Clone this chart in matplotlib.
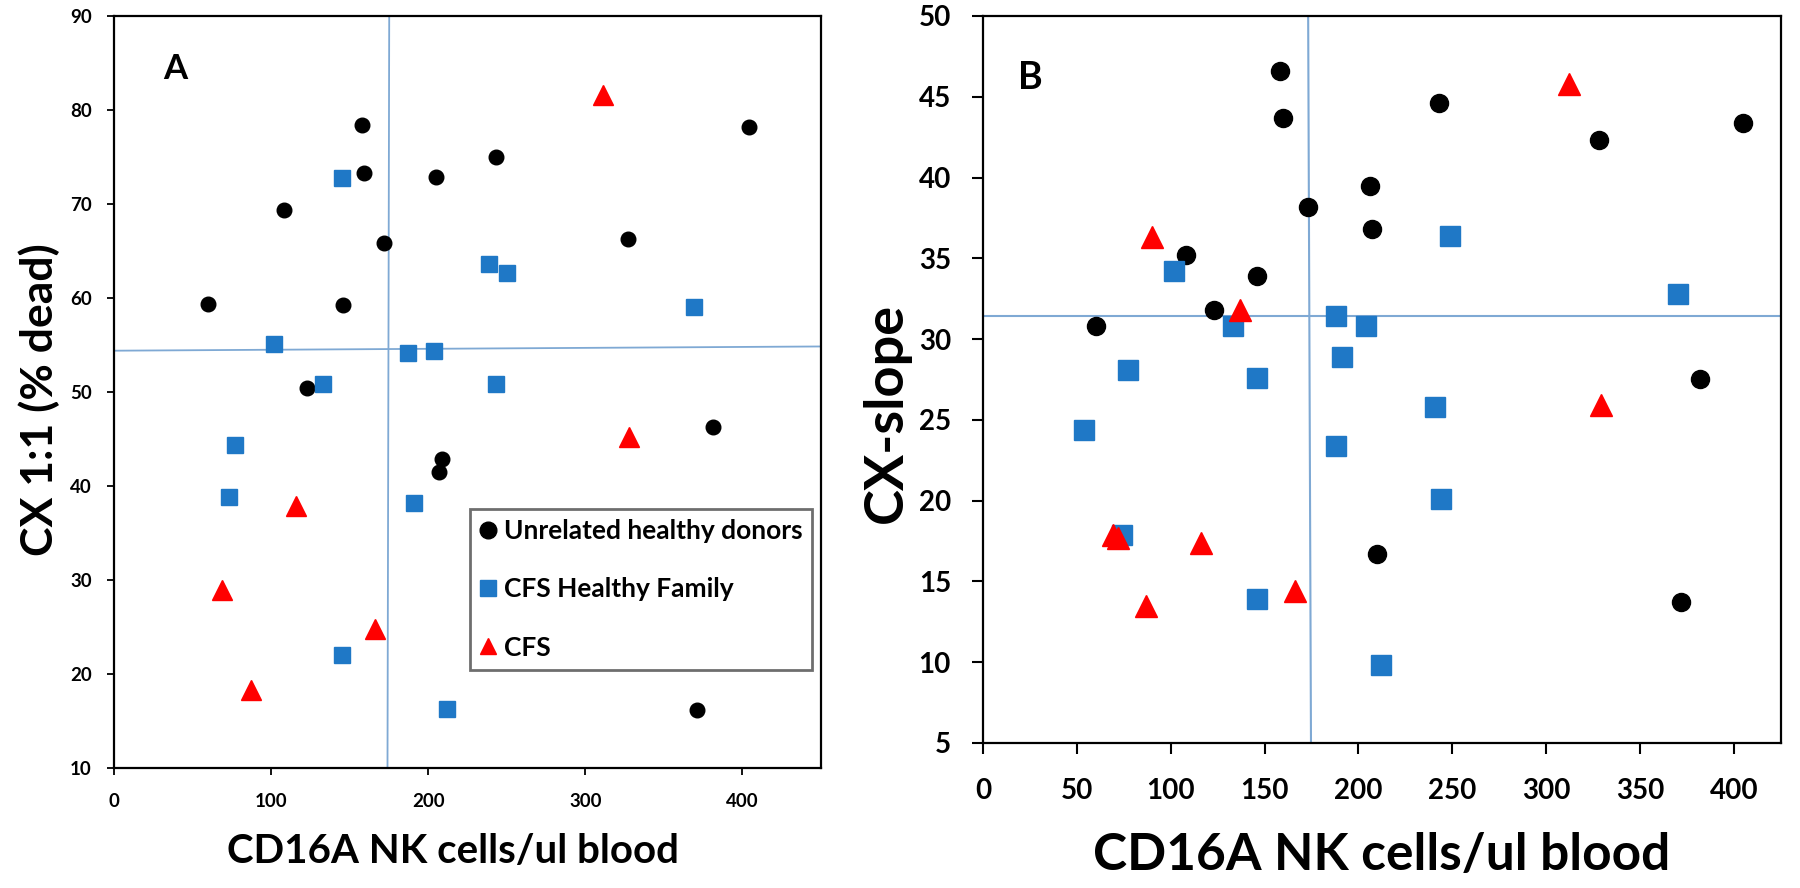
import matplotlib
matplotlib.use("Agg")
import matplotlib.pyplot as plt
from matplotlib.lines import Line2D

plt.rcParams['font.family'] = ['Lato', 'DejaVu Sans']
plt.rcParams['font.weight'] = 'bold'

# -------------------------------------------------
# DATA  panel A: CX 1:1 (% dead)
# -------------------------------------------------
a_donor_x = [60, 158, 159, 108, 172, 146, 123, 205, 243, 327, 404, 381, 209, 207, 371]
a_donor_y = [59.4, 78.4, 73.3, 69.4, 65.9, 59.3, 50.4, 72.9, 75.0, 66.3, 78.2, 46.3, 42.9, 41.5, 16.2]

a_family_x = [145, 102, 133, 77, 73, 187, 204, 239, 250, 243, 369, 191, 145, 212]
a_family_y = [72.8, 55.1, 50.9, 44.4, 38.8, 54.2, 54.4, 63.6, 62.7, 50.9, 59.1, 38.2, 22.0, 16.3]

a_cfs_x = [311, 328, 116, 69, 166, 87]
a_cfs_y = [81.6, 45.2, 37.9, 28.9, 24.8, 18.3]

a_hline_x = [0, 450]
a_hline_y = [54.4, 54.85]
a_vline_x = [175.2, 174.1]
a_vline_y = [90, 10]

# -------------------------------------------------
# DATA  panel B: CX-slope
# -------------------------------------------------
b_donor_x = [158, 160, 243, 328, 405, 206, 173, 207, 108, 146, 123, 60, 382, 210, 372]
b_donor_y = [46.6, 43.7, 44.6, 42.3, 43.4, 39.5, 38.2, 36.8, 35.2, 33.9, 31.8, 30.8, 27.5, 16.7, 13.7]

b_family_x = [102, 249, 370, 188, 204, 133, 191, 77, 146, 54, 241, 188, 244, 74, 146, 212]
b_family_y = [34.2, 36.4, 32.8, 31.4, 30.8, 30.8, 28.9, 28.1, 27.6, 24.4, 25.8, 23.4, 20.1, 17.9, 13.9, 9.8]

b_cfs_x = [312, 90, 137, 329, 69, 72, 116, 166, 87]
b_cfs_y = [45.8, 36.3, 31.8, 25.9, 17.9, 17.7, 17.4, 14.4, 13.5]

b_hline_x = [0, 425]
b_hline_y = [31.4, 31.4]
b_vline_x = [173.2, 174.7]
b_vline_y = [50, 5]

BLUE = '#1f78c6'
RED = '#ff0000'
LINE = '#7fa9d4'

fig = plt.figure(figsize=(18, 8.88), dpi=100)
axA = fig.add_axes([0.0633, 0.1351, 0.3928, 0.8468])
axB = fig.add_axes([0.5461, 0.1633, 0.4433, 0.8187])

# -------------------------------------------------
# PANEL A
# -------------------------------------------------
axA.plot(a_hline_x, a_hline_y, color=LINE, lw=1.3, zorder=1)
axA.plot(a_vline_x, a_vline_y, color=LINE, lw=1.3, zorder=1)
axA.plot(a_donor_x, a_donor_y, 'o', color='black', ms=10.5, ls='none', zorder=3)
axA.plot(a_family_x, a_family_y, 's', color=BLUE, ms=12, ls='none', zorder=3)
axA.plot(a_cfs_x, a_cfs_y, '^', color=RED, ms=14, ls='none', zorder=3)

axA.set_xlim(0, 450)
axA.set_ylim(10, 90)
axA.set_xticks([0, 100, 200, 300, 400])
axA.set_yticks(range(10, 91, 10))
axA.tick_params(labelsize=13.5, direction='out', length=5, width=1.3)
axA.tick_params(axis='x', pad=13)
axA.tick_params(axis='y', pad=11)
axA.set_xlabel('CD16A NK cells/ul blood', fontsize=29, fontweight='bold')
axA.xaxis.set_label_coords(0.48, -0.1263)
axA.xaxis.label.set_va('baseline')
axA.set_ylabel('CX 1:1 (% dead)', fontsize=32, fontweight='bold')
axA.yaxis.set_label_coords(-0.0863, 0.49)
axA.yaxis.label.set_va('baseline')
axA.text(0.087, 0.93, 'A', transform=axA.transAxes, fontsize=25, fontweight='bold',
         ha='center', va='center')

handles = [
    Line2D([], [], marker='o', color='black', ls='none', ms=12),
    Line2D([], [], marker='s', color=BLUE, ls='none', ms=11),
    Line2D([], [], marker='^', color=RED, ls='none', ms=12),
]
leg = axA.legend(handles, ['Unrelated healthy donors', 'CFS Healthy Family', 'CFS'],
                 loc='upper left', bbox_to_anchor=(0.5035, 0.3444), fontsize=19,
                 frameon=True, fancybox=False, handlelength=0.6, handletextpad=0.3,
                 labelspacing=1.3, borderpad=0.38, borderaxespad=0)
leg.get_frame().set_edgecolor('#4a4a4a')
leg.get_frame().set_linewidth(2)

# -------------------------------------------------
# PANEL B
# -------------------------------------------------
axB.plot(b_hline_x, b_hline_y, color=LINE, lw=1.5, zorder=1)
axB.plot(b_vline_x, b_vline_y, color=LINE, lw=1.5, zorder=1)
axB.plot(b_donor_x, b_donor_y, 'o', color='black', ms=13, ls='none', zorder=3)
axB.plot(b_family_x, b_family_y, 's', color=BLUE, ms=15, ls='none', zorder=3)
axB.plot(b_cfs_x, b_cfs_y, '^', color=RED, ms=16, ls='none', zorder=3)

axB.set_xlim(0, 425)
axB.set_ylim(5, 50)
axB.set_xticks(range(0, 401, 50))
axB.set_yticks(range(5, 51, 5))
axB.tick_params(labelsize=20, direction='out', length=8, width=1.5)
axB.tick_params(axis='x', pad=17)
axB.tick_params(axis='y', pad=15)
axB.set_xlabel('CD16A NK cells/ul blood', fontsize=37, fontweight='bold')
axB.xaxis.set_label_coords(0.5, -0.1747)
axB.xaxis.label.set_va('baseline')
axB.set_ylabel('CX-slope', fontsize=39, fontweight='bold')
axB.yaxis.set_label_coords(-0.1015, 0.454)
axB.yaxis.label.set_va('baseline')
axB.text(0.06, 0.915, 'B', transform=axB.transAxes, fontsize=27, fontweight='bold',
         ha='center', va='center')

for ax in (axA, axB):
    for s in ax.spines.values():
        s.set_linewidth(1.6)
    for lab in ax.get_xticklabels() + ax.get_yticklabels():
        lab.set_fontweight('bold')

fig.savefig('out.png', dpi=100)
